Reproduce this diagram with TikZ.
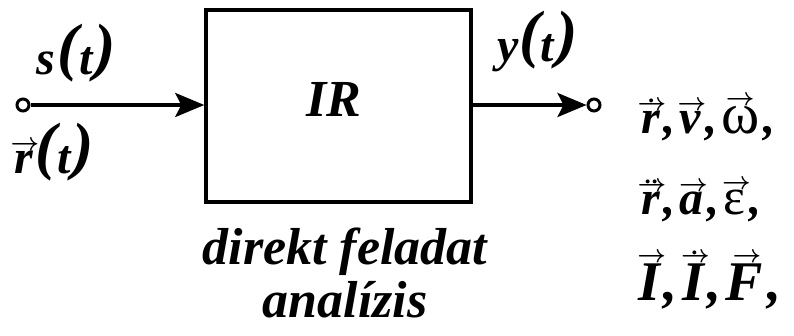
\documentclass[tikz,border=0pt]{standalone}
\usepackage{fontspec}
\setmainfont{Liberation Serif}
\usetikzlibrary{arrows.meta}
\newcommand\Acc[3]{\setbox0=\hbox{#2}\setbox2=\hbox{#3}\rlap{\hbox to\wd0{\hss\kern#1\raise\dimexpr\ht0+1pt\relax\box2\hss}}\box0}
\newcommand\vecA{\hbox{\fontsize{24}{24}\selectfont\boldmath$\rightarrow$}}
\newcommand\dotA{\hbox{\fontsize{24}{24}\selectfont\bfseries.}}
\newcommand\VA[2][0pt]{\Acc{#1}{#2}{\vecA}}
\newcommand\VD[2][0pt]{\Acc{#1}{#2}{\vbox{\offinterlineskip\setbox4=\vecA\hbox to\wd4{\hss\dotA\hss}\kern-2pt\box4}}}
\newcommand\VDD[2][0pt]{\Acc{#1}{#2}{\vbox{\offinterlineskip\setbox4=\vecA\hbox to\wd4{\hss\dotA\kern1pt\dotA\hss}\kern-2pt\box4}}}
\newcommand\BP[1]{\raisebox{6pt}{\fontsize{64}{64}\selectfont\bfseries #1}}
\newcommand\cm{\kern4pt,\kern4pt}
\tikzset{
  lbl/.style={inner sep=0pt, font=\fontsize{48}{52}\selectfont\bfseries\itshape},
  big/.style={inner sep=0pt, font=\fontsize{52}{56}\selectfont\bfseries\itshape},
  port/.style={circle, draw, line width=3pt, minimum size=12pt, inner sep=0pt, fill=white},
  sysbox/.style={draw, line width=3.5pt, minimum width=265pt, minimum height=192pt, inner sep=0pt},
  sig/.style={line width=3.5pt, -{Stealth[length=29pt,width=24pt,inset=6pt]}},
}
\begin{document}
\begin{tikzpicture}[x=1pt,y=-1pt]
\useasboundingbox (0,0) rectangle (794,336);
\node[sysbox] (sys) at (338.5,106) {};
\node[big, anchor=base] (ir) at (334,117) {IR};
\node[port] (in) at (23,105) {};
\node[port] (out) at (594,105) {};
\draw[sig] (in) -- (in -| sys.west);
\draw[sig] (sys.east |- out) -- (out);
\node[lbl, anchor=base west] (s) at (36,75) {s\kern3pt\BP{(}t\kern2pt\BP{)}};
\node[lbl, anchor=base west] (r) at (14,174) {\VA[3pt]{r}\kern3pt\BP{(}t\kern2pt\BP{)}};
\node[lbl, anchor=base west] (y) at (497,62) {y\kern1pt\BP{(}t\kern2pt\BP{)}};
\node[big, anchor=base] (d1) at (345,265) {direkt feladat};
\node[big, anchor=base] (d2) at (345,317) {analízis};
\node[lbl, anchor=base west] (q1) at (641,134) {\VD[3pt]{r}\cm\VA[3pt]{v}\cm{\fontsize{58}{58}\selectfont\mdseries\upshape\VA{ω}}\cm};
\node[lbl, anchor=base west] (q2) at (641,215) {\VDD[3pt]{r}\cm\VA[3pt]{a}\cm{\fontsize{52}{52}\selectfont\mdseries\upshape\VA[3pt]{ε}}\cm};
\node[lbl, anchor=base west, font=\fontsize{56}{60}\selectfont\bfseries\itshape] (q3) at (638,300) {\VA[5pt]{I}\cm\VD[5pt]{I}\cm\VA[5pt]{F}\cm};
\end{tikzpicture}
\end{document}
